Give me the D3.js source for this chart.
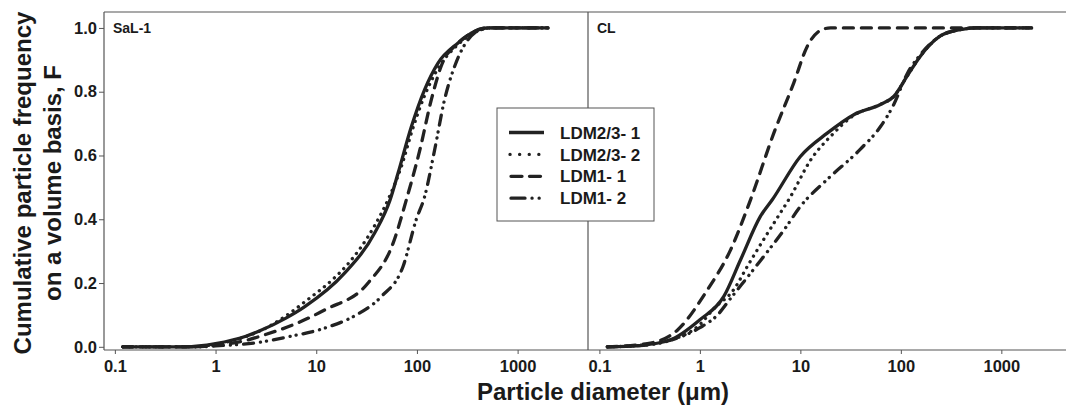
<!DOCTYPE html>
<html>
<head>
<meta charset="utf-8">
<script src="https://cdn.jsdelivr.net/npm/d3@7"></script>
<style>
  body { margin: 0; background: #fff; }
  text { font-family: "Liberation Sans", Arial, sans-serif; font-weight: bold; fill: #1a1a1a; }
</style>
</head>
<body>
<svg id="chart" width="1066" height="408"></svg>
<script>
// series: [diameter um, cumulative F]
let series_names = ["LDM2/3- 1", "LDM2/3- 2", "LDM1- 1", "LDM1- 2"];
let panel_names = ["SaL-1", "CL"];
let x_ticks = [0.1, 1, 10, 100, 1000];
let y_ticks = [0, 0.2, 0.4, 0.6, 0.8, 1.0];

let sal_ldm23_1 = [[0.12,0],[0.5,0],[1,0.01],[2,0.033],[2.65,0.048],[5,0.09],[7.7,0.126],[19,0.23],[38,0.357],[54,0.46],[65,0.545],[88,0.69],[119,0.806],[162,0.89],[256,0.953],[375,0.99],[507,1],[2000,1]];
let sal_ldm23_2 = [[0.12,0],[0.6,0],[1,0.008],[2,0.032],[3,0.055],[5,0.097],[8,0.145],[15,0.215],[20,0.255],[38,0.38],[54,0.475],[70,0.565],[90,0.68],[120,0.79],[160,0.87],[250,0.945],[400,0.99],[550,1],[2000,1]];
let sal_ldm1_1 = [[0.12,0],[0.6,0],[1,0.005],[2,0.02],[3.1,0.038],[6,0.07],[12.2,0.116],[32.7,0.2],[58,0.325],[78.5,0.461],[107,0.618],[139,0.775],[174,0.88],[256,0.953],[347,0.984],[500,1],[2000,1]];
let sal_ldm1_2 = [[0.12,0],[0.7,0],[1,0.003],[2.46,0.012],[5,0.03],[12.2,0.059],[25,0.1],[44.4,0.158],[72.8,0.252],[98.6,0.4],[119,0.47],[150,0.618],[188,0.775],[237,0.88],[321,0.963],[436,0.995],[550,1],[2000,1]];

let cl_ldm23_1 = [[0.12,0],[0.25,0.004],[0.51,0.022],[1,0.085],[1.73,0.158],[2.54,0.273],[4,0.409],[5.25,0.461],[10,0.597],[18.5,0.67],[34,0.728],[62.5,0.76],[85,0.785],[115,0.848],[155,0.91],[245,0.974],[390,0.995],[575,1],[2000,1]];
let cl_ldm23_2 = [[0.12,0],[0.25,0.004],[0.5,0.02],[1,0.07],[1.38,0.12],[2.18,0.18],[3,0.255],[4,0.32],[5.9,0.405],[7.95,0.47],[12.6,0.585],[20.7,0.665],[34,0.726],[62.5,0.76],[85,0.785],[115,0.848],[155,0.91],[245,0.974],[390,0.995],[575,1],[2000,1]];
let cl_ldm1_1 = [[0.12,0],[0.3,0.01],[0.6,0.053],[1.19,0.179],[2.02,0.304],[3.19,0.461],[5.44,0.67],[8.6,0.828],[11.7,0.942],[17.1,0.997],[20,1],[2000,1]];
let cl_ldm1_2 = [[0.12,0],[0.25,0.004],[0.5,0.02],[1,0.06],[1.5,0.1],[2,0.15],[4,0.27],[7,0.37],[10,0.44],[18.5,0.525],[39.6,0.62],[62.5,0.69],[85,0.76],[115,0.855],[155,0.915],[245,0.974],[390,0.995],[575,1],[2000,1]];

let panel_data = [
    [sal_ldm23_1, sal_ldm23_2, sal_ldm1_1, sal_ldm1_2],
    [cl_ldm23_1, cl_ldm23_2, cl_ldm1_1, cl_ldm1_2]
];

// round caps everywhere so the dots show; dash lengths shortened to allow for the caps
const dashes = ["none", "0.1 6.5", "10 8", "10 7 0.1 6 0.1 7"];
const legDashes = ["none", "0.1 9.5", "11 7.5", "14 7 0.1 7 0.1 20"];
const legX = [[509, 544], [510, 540], [511, 541], [511, 541]];
const ink = "#222222";
const axisCol = "#555555";

const svg = d3.select("#chart");

const plotTop = 12, plotBottom = 350;
let yscale = d3.scaleLinear([-0.01, 1.05], [plotBottom, plotTop]);

// two panels, each with its own log x scale
let xscales = [
    d3.scaleLog([0.078, 5000], [104, 588]),
    d3.scaleLog([0.077, 4400], [588, 1066])
];

// frame lines
svg.append("line").attr("x1", 104).attr("x2", 1066).attr("y1", plotTop).attr("y2", plotTop)
    .attr("stroke", axisCol).attr("stroke-width", 1.2);
svg.append("line").attr("x1", 104).attr("x2", 104).attr("y1", plotTop).attr("y2", plotBottom)
    .attr("stroke", axisCol).attr("stroke-width", 1.2);
svg.append("line").attr("x1", 588).attr("x2", 588).attr("y1", plotTop).attr("y2", plotBottom)
    .attr("stroke", axisCol).attr("stroke-width", 1.2);

// y axis
let yAxis = d3.axisLeft(yscale).tickValues(y_ticks).tickFormat(d3.format(".1f")).tickSize(5).tickPadding(2);
let yg = svg.append("g").attr("transform", "translate(104,0)").call(yAxis);
yg.select(".domain").remove();
yg.selectAll(".tick line").attr("stroke", axisCol);
yg.selectAll(".tick text").style("font-size", "16.5px");

xscales.forEach((xs, i) => {
    let xAxis = d3.axisBottom(xs).tickValues(x_ticks).tickFormat(d => String(d)).tickSize(4).tickPadding(6);
    let g = svg.append("g").attr("transform", "translate(0," + plotBottom + ")").call(xAxis);
    g.select(".domain").attr("stroke", axisCol).attr("stroke-width", 1.2).attr("d", "M" + xs.range()[0] + ",0H" + xs.range()[1]);
    g.selectAll(".tick line").attr("stroke", axisCol);
    g.selectAll(".tick text").style("font-size", "16.5px");

    svg.append("text")
        .attr("x", xs.range()[0] + 9)
        .attr("y", yscale(1.0) + 5.5)
        .style("font-size", "14px")
        .text(panel_names[i]);

    let line = d3.line()
        .x(d => xs(d[0]))
        .y(d => yscale(d[1]))
        .curve(d3.curveMonotoneX);

    svg.selectAll(".curve" + i)
        .data(panel_data[i])
        .enter()
        .append("path")
        .attr("class", "curve" + i)
        .attr("d", line)
        .attr("fill", "none")
        .attr("stroke", ink)
        .attr("stroke-width", 3.3)
        .attr("stroke-linecap", "round")
        .attr("stroke-dasharray", (d, j) => dashes[j]);
});

// legend
let lg = svg.append("g");
lg.append("rect").attr("x", 497).attr("y", 108).attr("width", 157).attr("height", 113)
    .attr("fill", "#fff").attr("stroke", axisCol).attr("stroke-width", 1);
lg.selectAll(".legLine")
    .data(series_names)
    .enter()
    .append("line")
    .attr("class", "legLine")
    .attr("x1", (d, i) => legX[i][0]).attr("x2", (d, i) => legX[i][1])
    .attr("y1", (d, i) => 132.5 + i * 21.9)
    .attr("y2", (d, i) => 132.5 + i * 21.9)
    .attr("stroke", ink)
    .attr("stroke-width", 3.3)
    .attr("stroke-linecap", (d, i) => i == 0 ? "butt" : "round")
    .attr("stroke-dasharray", (d, i) => legDashes[i]);
lg.selectAll(".legText")
    .data(series_names)
    .enter()
    .append("text")
    .attr("class", "legText")
    .attr("x", 560)
    .attr("y", (d, i) => 132.5 + i * 21.9)
    .attr("dy", "0.36em")
    .style("font-size", "17px")
    .text(d => d);

// axis titles
svg.append("text")
    .attr("x", 603).attr("y", 400)
    .attr("text-anchor", "middle")
    .style("font-size", "24px")
    .text("Particle diameter (\u03bcm)");

let yt = svg.append("text")
    .attr("transform", "translate(0,183) rotate(-90)")
    .attr("text-anchor", "middle")
    .style("font-size", "24px");
yt.append("tspan").attr("x", 0).attr("y", 31).text("Cumulative particle frequency");
yt.append("tspan").attr("x", 0).attr("y", 61).text("on a volume basis, F");
</script>
</body>
</html>
